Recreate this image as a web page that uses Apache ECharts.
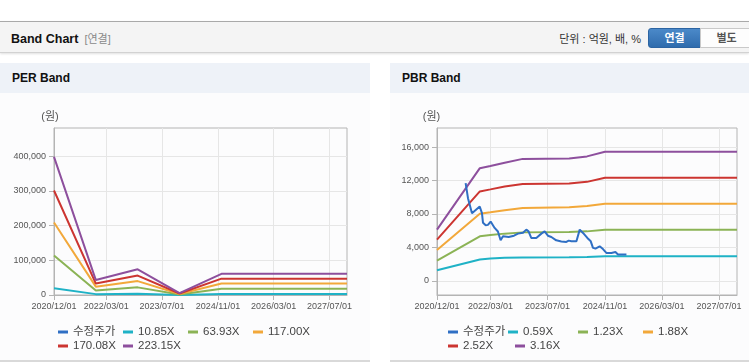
<!DOCTYPE html>
<html>
<head>
<meta charset="utf-8">
<script src="https://cdn.jsdelivr.net/npm/echarts@6/dist/echarts.min.js"></script>
<style>
  html, body { margin: 0; padding: 0; background: #fff; }
  body { width: 749px; height: 364px; position: relative; overflow: hidden;
         font-family: "Liberation Sans", Arial, "Noto Sans CJK KR", sans-serif; }
  .topbar { position: absolute; left: 0; top: 21px; width: 749px; height: 30px; background: #f4f4f4;
            border-top: 1px solid #a9a9a9; border-bottom: 1px solid #d2d2d2; box-shadow: 0 1px 2px rgba(0,0,0,.12); }
  .title { position: absolute; left: 11px; top: 32px; line-height: 14px; font-size: 12.5px; font-weight: bold; color: #111; }
  .title span { font-weight: normal; font-size: 11px; color: #8a8a8a; margin-left: 6px; }
  .unit { position: absolute; right: 108px; top: 32px; line-height: 14px; font-size: 11px; color: #333; }
  .btn { position: absolute; top: 28px; height: 18px; line-height: 18px; width: 51px; text-align: center;
         font-size: 11px; font-weight: bold; }
  .btn.on { left: 648px; color: #fff; background: linear-gradient(#4b89c9, #2f6cad); border: 1px solid #2c64a2; border-radius: 3px 0 0 3px; }
  .btn.off { left: 700px; color: #555; background: #fdfdfd; border: 1px solid #c9c9c9; }
  .panel { position: absolute; top: 63px; height: 297px; background: #fcfcfd; border-bottom: 2px solid #d9d9d9; }
  .panel .head { height: 30px; line-height: 30px; background: #eef2f8; padding-left: 12px; font-size: 12px; font-weight: bold; color: #111; }
  #chart { position: absolute; left: 0; top: 0; width: 749px; height: 364px; z-index: 2; }
</style>
</head>
<body>
<div class="topbar"></div>
<div class="title">Band Chart<span>[연결]</span></div>
<div class="unit">단위 : 억원, 배, %</div>
<div class="btn on">연결</div>
<div class="btn off">별도</div>
<div class="panel" style="left:0;width:370px;"><div class="head">PER Band</div></div>
<div class="panel" style="left:390px;width:359px;"><div class="head">PBR Band</div></div>
<div id="chart"></div>
<script>
const FONT = '"Liberation Sans", Arial, "Noto Sans CJK KR", sans-serif';

// x axis
const xStart = '2020/12/01';
const xEnd = '2027/12/01';
const xTickLabels = ['2020/12/01', '2022/03/01', '2023/07/01', '2024/11/01', '2026/03/01', '2027/07/01'];

// PER band (원), yearly
const perDates = ['2020/12/01', '2021/12/01', '2022/12/01', '2023/12/01', '2024/12/01', '2025/12/01', '2026/12/01', '2027/12/01'];
const per1085 = [19400, 2500, 3600, 300, 3000, 3000, 3000, 3000];
const per6393 = [114000, 13000, 22000, 1600, 18000, 18000, 18000, 18000];
const per11700 = [209000, 24000, 40000, 2900, 33000, 33000, 33000, 33000];
const per17008 = [301000, 33000, 56000, 4200, 47000, 47000, 47000, 47000];
const per22315 = [398000, 43000, 74000, 5500, 61000, 61000, 61000, 61000];
const perTicks = [0, 100000, 200000, 300000, 400000];

// PBR band (원)
const pbrDates = ['2020/12/01', '2021/12/01', '2022/03/01', '2022/07/01', '2022/12/01', '2024/01/01', '2024/06/01', '2024/11/01', '2027/12/01'];
const pbr059 = [1270, 2550, 2680, 2760, 2800, 2820, 2860, 2930, 2930];
const pbr123 = [2420, 5330, 5480, 5650, 5800, 5850, 5920, 6100, 6100];
const pbr188 = [3700, 8040, 8200, 8450, 8720, 8800, 8950, 9230, 9230];
const pbr252 = [4930, 10700, 10950, 11300, 11580, 11650, 11850, 12350, 12350];
const pbr316 = [6130, 13490, 13750, 14150, 14600, 14650, 14900, 15450, 15450];
const pbrTicks = [0, 4000, 8000, 12000, 16000];

// 수정주가 (PBR chart)
const priceDates = ['2021/08/02', '2021/08/22', '2021/09/25', '2021/10/12', '2021/11/30', '2021/12/19', '2021/12/28',
  '2022/01/20', '2022/02/08', '2022/03/03', '2022/04/06', '2022/05/04', '2022/05/27', '2022/06/16', '2022/08/04',
  '2022/09/18', '2022/10/22', '2022/12/04', '2023/01/01', '2023/01/20', '2023/02/12', '2023/03/27', '2023/05/09',
  '2023/06/06', '2023/07/04', '2023/08/02', '2023/09/13', '2023/10/26', '2023/12/08', '2023/12/28', '2024/01/20',
  '2024/03/03', '2024/03/31', '2024/04/28', '2024/06/04', '2024/07/03', '2024/07/22', '2024/08/12', '2024/09/17',
  '2024/10/15', '2024/11/13', '2024/12/26', '2025/01/29', '2025/02/20', '2025/03/26', '2025/05/03'];
const priceValues = [11700, 9900, 8100, 8000, 8900, 8100, 6950,
  6650, 6700, 7100, 6330, 5900, 4850, 5330, 5250,
  5400, 5650, 5750, 6130, 5920, 5130, 5130, 5650,
  5920, 5400, 5250, 4850, 4700, 4660, 4810, 4730,
  4730, 6130, 5730, 5130, 4730, 3940, 3860, 4130,
  3800, 3340, 3340, 3440, 3140, 3140, 3140];

const colors = { price: '#2f6fc4', c1: '#1fb2c6', c2: '#8bb355', c3: '#f2a83a', c4: '#cc3531', c5: '#8d4f9d' };

const ts = s => { const [y, m, d] = s.split('/').map(Number); return new Date(y, m - 1, d).getTime(); };

const line = (name, dates, values, color, idx, z) => ({
  name,
  type: 'line',
  xAxisIndex: idx,
  yAxisIndex: idx,
  data: dates.map((d, i) => [ts(d), values[i]]),
  symbol: 'none',
  showSymbol: false,
  z: z || 2,
  lineStyle: { color, width: 2 },
  itemStyle: { color },
  emphasis: { disabled: true }
});

const gray = '#b4b4b4';

const makeX = idx => ({
  gridIndex: idx,
  type: 'time',
  min: ts(xStart),
  max: ts(xEnd),
  axisLine: { onZero: false, lineStyle: { color: gray } },
  axisTick: { customValues: xTickLabels.map(ts), length: 5, lineStyle: { color: gray } },
  axisLabel: {
    customValues: xTickLabels.map(ts),
    formatter: '{yyyy}/{MM}/{dd}',
    fontFamily: FONT, fontSize: 9, color: '#555', margin: 7, hideOverlap: false
  },
  splitLine: { show: true, lineStyle: { color: '#e6e6e6' } }
});

const makeY = (idx, min, max, ticks, namePad) => ({
  gridIndex: idx,
  type: 'value',
  min, max,
  name: '(원)',
  nameLocation: 'end',
  nameGap: 11,
  nameTextStyle: { fontFamily: FONT, fontSize: 11, color: '#555', align: 'center', verticalAlign: 'middle', padding: [0, namePad, 0, 0] },
  axisLine: { show: true, onZero: false, lineStyle: { color: gray } },
  axisTick: { show: true, customValues: ticks, length: 5, lineStyle: { color: gray } },
  axisLabel: { customValues: ticks, fontFamily: FONT, fontSize: 9, color: '#555', margin: 8 },
  splitLine: { show: true, lineStyle: { color: '#e6e6e6' } }
});

const legendItem = (name, w) => ({ name, textStyle: { width: w } });
const legendBase = {
  orient: 'horizontal',
  top: 320,
  itemGap: 0,
  itemWidth: 10,
  itemHeight: 3,
  icon: 'rect',
  textStyle: { fontFamily: FONT, fontSize: 11.5, color: '#444', lineHeight: 14 }
};

const chart = echarts.init(document.getElementById('chart'), null, { renderer: 'canvas' });
chart.setOption({
  animation: false,
  backgroundColor: 'transparent',
  textStyle: { fontFamily: FONT },
  grid: [
    { left: 54, top: 128, width: 293, height: 167, show: true, borderColor: gray, borderWidth: 1 },
    { left: 437, top: 128, width: 300, height: 167, show: true, borderColor: gray, borderWidth: 1 }
  ],
  xAxis: [makeX(0), makeX(1)],
  yAxis: [makeY(0, 0, 481000, perTicks, 8), makeY(1, -1700, 18300, pbrTicks, 11)],
  legend: [
    {
      ...legendBase, left: 53, width: 270,
      data: [legendItem('수정주가', 50), legendItem('10.85X', 50), legendItem('63.93X', 50),
             legendItem('117.00X', 50), legendItem('170.08X', 50), legendItem('223.15X', 50)]
    },
    {
      ...legendBase, left: 443, width: 270,
      data: [legendItem('수정주가', 45), legendItem('0.59X', 55), legendItem('1.23X', 50),
             legendItem('1.88X', 50), legendItem('2.52X', 52), legendItem('3.16X', 50)]
    }
  ],
  series: [
    line('수정주가', [], [], colors.price, 0, 1),
    line('10.85X', perDates, per1085, colors.c1, 0),
    line('63.93X', perDates, per6393, colors.c2, 0),
    line('117.00X', perDates, per11700, colors.c3, 0),
    line('170.08X', perDates, per17008, colors.c4, 0),
    line('223.15X', perDates, per22315, colors.c5, 0),
    line('수정주가', priceDates, priceValues, colors.price, 1, 3),
    line('0.59X', pbrDates, pbr059, colors.c1, 1),
    line('1.23X', pbrDates, pbr123, colors.c2, 1),
    line('1.88X', pbrDates, pbr188, colors.c3, 1),
    line('2.52X', pbrDates, pbr252, colors.c4, 1),
    line('3.16X', pbrDates, pbr316, colors.c5, 1)
  ]
});
</script>
</body>
</html>
